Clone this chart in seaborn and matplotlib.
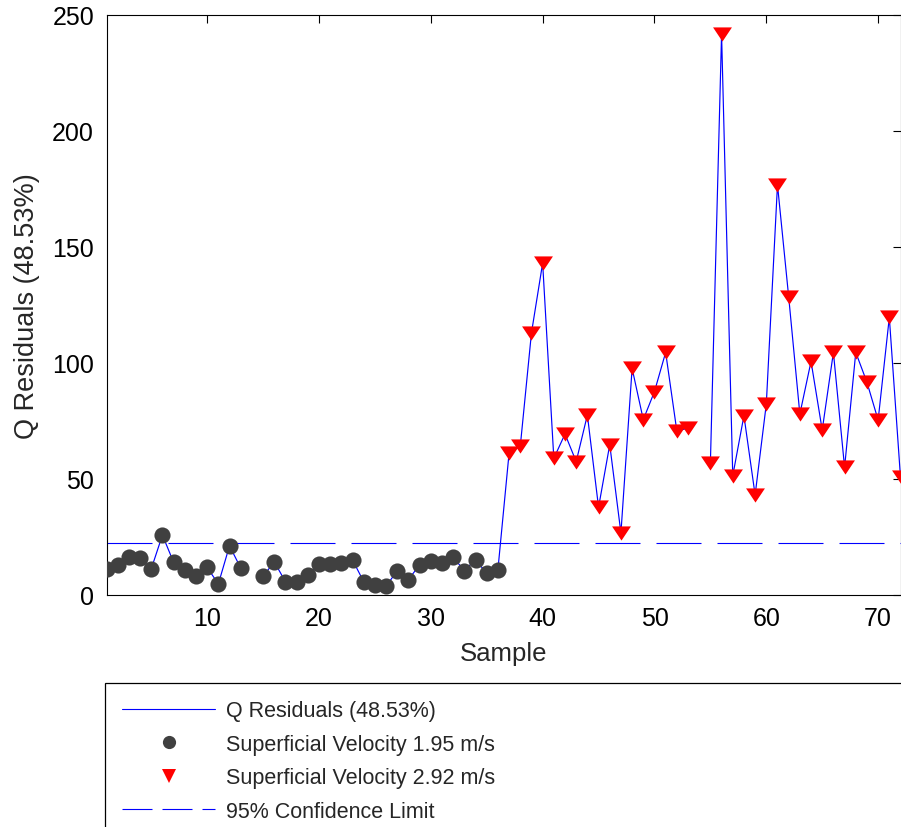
import numpy as np
import pandas as pd
import matplotlib
matplotlib.use("Agg")
import matplotlib.pyplot as plt
from matplotlib.lines import Line2D
from matplotlib import font_manager
import seaborn as sns

# ---- data ----
samples_low = list(range(1, 37))
q_low = [11.1, 12.9, 16.1, 15.8, 11.1, 25.7, 14.0, 10.8, 7.9, 11.8, 4.6, 21.1,
         11.5, np.nan, 7.9, 14.2, 5.6, 5.6, 8.5, 13.2, 13.2, 13.7, 15.0, 5.6,
         4.2, 3.6, 10.4, 6.5, 12.9, 14.4, 13.6, 16.1, 10.4, 15.1, 9.2, 10.8]
samples_high = list(range(37, 73))
q_high = [61.1, 64.0, 112.9, 143.0, 58.8, 69.3, 57.4, 77.5, 37.7, 64.7, 26.6, 97.6,
          75.5, 87.6, 104.5, 70.6, 71.8, np.nan, 56.8, 241.8, 51.3, 77.2, 43.0, 82.2,
          176.8, 128.5, 77.9, 100.6, 71.0, 104.5, 54.9, 104.5, 91.6, 75.3, 119.6, 50.6]
conf_limit = 22.3
x_ticks = [10, 20, 30, 40, 50, 60, 70]
y_ticks = [0, 50, 100, 150, 200, 250]
legend_labels = ["Q Residuals (48.53%)", "Superficial Velocity 1.95 m/s",
                 "Superficial Velocity 2.92 m/s", "95% Confidence Limit"]
x_label = "Sample"
y_label = "Q Residuals (48.53%)"

df_low = pd.DataFrame({"Sample": samples_low, "Q": q_low})
df_high = pd.DataFrame({"Sample": samples_high, "Q": q_high})
df_all = pd.concat([df_low, df_high], ignore_index=True)

sns.set_style("white")
names = {f.name for f in font_manager.fontManager.ttflist}
base_font = "Liberation Sans" if "Liberation Sans" in names else "DejaVu Sans"
narrow_font = "Liberation Sans Narrow" if "Liberation Sans Narrow" in names else base_font
plt.rcParams["font.family"] = [base_font, "DejaVu Sans"]

fig = plt.figure(figsize=(9.01, 8.28), dpi=100)
ax = fig.add_axes([106.5 / 901, 232.3 / 828, (900.5 - 106.5) / 901, (595.7 - 16) / 828])

# line with gaps
ax.plot(df_all["Sample"], df_all["Q"], color="#0000ff", lw=0.85, zorder=2)
# confidence limit
ax.axhline(conf_limit, color="#0000ff", lw=0.8, dashes=(40.5, 14.4), zorder=1)

tri = [(-1, 0.75), (1, 0.75), (0, -0.75)]
sns.scatterplot(data=df_low.dropna(), x="Sample", y="Q", ax=ax, color="#404040",
                s=135, marker="o", linewidth=0, zorder=3, legend=False)
sns.scatterplot(data=df_high.dropna(), x="Sample", y="Q", ax=ax, color="#ff0000",
                s=185, marker=tri, linewidth=0, zorder=3, legend=False)

ax.set_xlim(1, 72)
ax.set_ylim(0, 250)
ax.set_xticks(x_ticks)
ax.set_yticks(y_ticks)
ax.tick_params(direction="in", length=5.5, width=0.8, labelsize=18, colors="black",
               top=True, right=True)
ax.tick_params(axis="x", pad=8)
ax.tick_params(axis="y", pad=9)
for sp in ax.spines.values():
    sp.set_visible(True)
    sp.set_color("black")
    sp.set_linewidth(0.8)
ax.set_xlabel(x_label, fontsize=18.5, labelpad=8)
ax.set_ylabel(y_label, fontsize=19.5, labelpad=9)

handles = [
    Line2D([], [], color="#0000ff", lw=0.8),
    Line2D([], [], color="#404040", marker="o", ls="none", markersize=9.5, markeredgewidth=0),
    Line2D([], [], color="#ff0000", marker="v", ls="none", markersize=10, markeredgewidth=0),
    Line2D([], [], color="#0000ff", lw=0.8, dashes=(27, 9)),
]
leg = fig.legend(handles, legend_labels, loc="upper left",
                 bbox_to_anchor=(105 / 901, 0, 1.0, (828 - 684) / 828),
                 mode="expand", borderaxespad=0, fancybox=False, framealpha=1,
                 edgecolor="black", handlelength=4.3, handletextpad=0.5,
                 labelspacing=0.58, borderpad=0.8, numpoints=1,
                 prop={"family": [narrow_font, "DejaVu Sans"], "size": 15.5})
leg.get_frame().set_linewidth(0.9)

fig.savefig("out.png", dpi=100)
